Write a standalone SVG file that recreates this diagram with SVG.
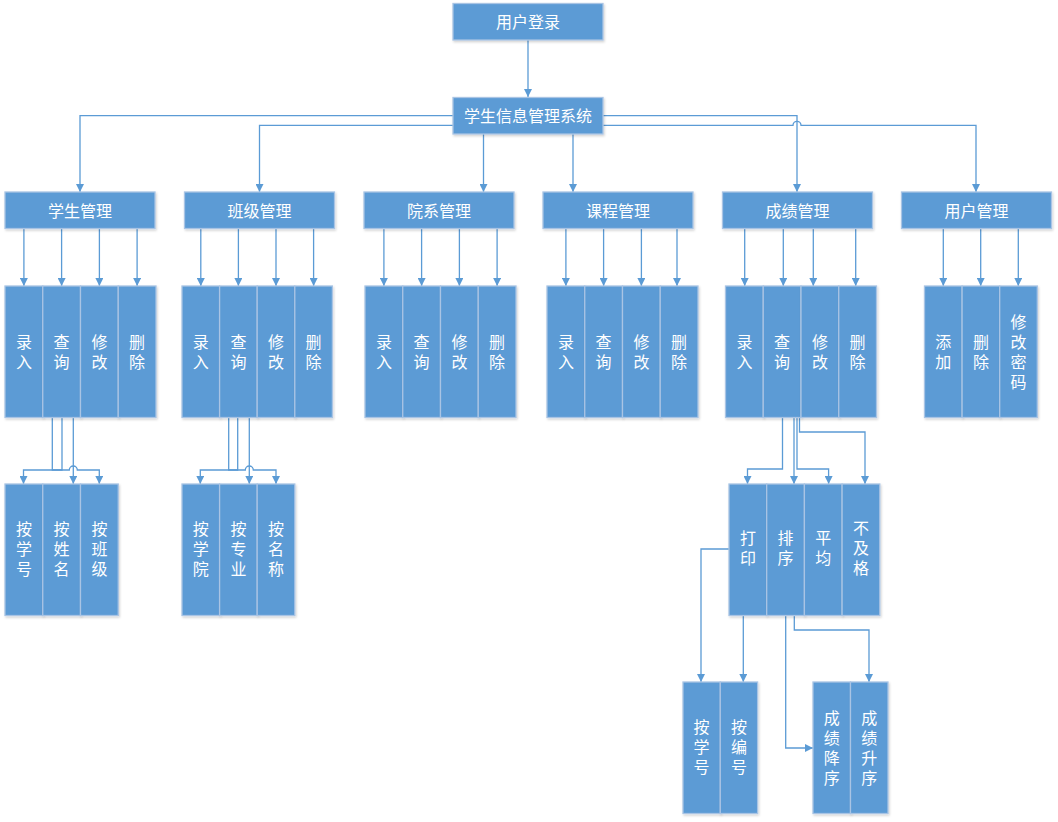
<svg xmlns="http://www.w3.org/2000/svg" width="1058" height="822" viewBox="0 0 1058 822">
<style>
.b{fill:#5b9bd5;stroke:#a9c4e4;stroke-width:1.3;filter:url(#sh)}
.t{fill:#fff;font-family:"Noto Sans CJK SC","Noto Sans",sans-serif;font-size:16px;text-anchor:middle;dominant-baseline:central}
.v{fill:#fff;font-family:"Noto Sans CJK SC","Noto Sans",sans-serif;font-size:16px;text-anchor:middle;writing-mode:vertical-rl;letter-spacing:4px}
.c{fill:none;stroke:#5b9bd5;stroke-width:1.3;marker-end:url(#ar)}
</style>
<defs>
<marker id="ar" markerUnits="userSpaceOnUse" markerWidth="8" markerHeight="8" refX="8" refY="4" orient="auto"><path d="M0,0 L8,4 L0,8 z" fill="#5b9bd5"/></marker>
<filter id="sh" x="-10%" y="-10%" width="130%" height="130%"><feDropShadow dx="1" dy="1.5" stdDeviation="1" flood-color="#000" flood-opacity="0.18"/></filter>
</defs>
<rect width="1058" height="822" fill="#fff"/>
<g id="connectors">
<path class="c" d="M528,40 V97"/>
<path class="c" d="M453,115.7 H80 V192"/>
<path class="c" d="M453,125.3 H259.5 V192"/>
<path class="c" d="M483.5,134 V192"/>
<path class="c" d="M573,134 V192"/>
<path class="c" d="M603,115.7 H797 V192"/>
<path class="c" d="M603,125.3 H793 A4,4 0 0 1 801,125.3 H976 V192"/>
<path class="c" d="M23.9,228 V286"/><path class="c" d="M61.6,228 V286"/><path class="c" d="M99.4,228 V286"/><path class="c" d="M137.1,228 V286"/>
<path class="c" d="M200.8,228 V286"/><path class="c" d="M238.4,228 V286"/><path class="c" d="M276,228 V286"/><path class="c" d="M313.6,228 V286"/>
<path class="c" d="M383.9,228 V286"/><path class="c" d="M421.6,228 V286"/><path class="c" d="M459.4,228 V286"/><path class="c" d="M497.1,228 V286"/>
<path class="c" d="M565.9,228 V286"/><path class="c" d="M603.6,228 V286"/><path class="c" d="M641.4,228 V286"/><path class="c" d="M677,228 V286"/>
<path class="c" d="M744.7,228 V286"/><path class="c" d="M783.3,228 V286"/><path class="c" d="M813.3,228 V286"/><path class="c" d="M855.7,228 V286"/>
<path class="c" d="M943.3,228 V286"/><path class="c" d="M980.7,228 V286"/><path class="c" d="M1018.3,228 V286"/>
<path class="c" d="M62,417.5 V470 H23.5 V484"/>
<path class="c" d="M52.3,417.5 V470 H69.3 A4,4 0 0 1 77.3,470 H99.3 V484"/>
<path class="c" d="M73.3,417.5 V484"/>
<path class="c" d="M237.7,417.5 V470 H200.3 V484"/>
<path class="c" d="M228.7,417.5 V470 H245.3 A4,4 0 0 1 253.3,470 H276 V484"/>
<path class="c" d="M249.3,417.5 V484"/>
<path class="c" d="M782.5,417.5 V469 H747.5 V484"/>
<path class="c" d="M794,417.5 V484"/>
<path class="c" d="M797,417.5 V469 H828.6 V484"/>
<path class="c" d="M799.5,417.5 V432 H865 V484"/>
<path class="c" d="M729,549 H701 V682"/>
<path class="c" d="M743.3,615.5 V682"/>
<path class="c" d="M785.7,615.5 V748 H813"/>
<path class="c" d="M794.3,615.5 V630 H869 V682"/>
</g>
<g id="n-login"><rect class="b" x="453" y="3.5" width="150" height="36.5"/><text class="t" x="528" y="21">用户登录</text></g>
<g id="n-root"><rect class="b" x="453" y="97.5" width="150" height="36.5"/><text class="t" x="528" y="115">学生信息管理系统</text></g>
<g id="n-xs"><rect class="b" x="5" y="192" width="150" height="36.5"/><text class="t" x="80" y="210">学生管理</text></g>
<g id="n-bj"><rect class="b" x="184.5" y="192" width="150" height="36.5"/><text class="t" x="259.5" y="210">班级管理</text></g>
<g id="n-yx"><rect class="b" x="364" y="192" width="150" height="36.5"/><text class="t" x="439" y="210">院系管理</text></g>
<g id="n-kc"><rect class="b" x="543" y="192" width="150" height="36.5"/><text class="t" x="618" y="210">课程管理</text></g>
<g id="n-cj"><rect class="b" x="722.5" y="192" width="150" height="36.5"/><text class="t" x="797.5" y="210">成绩管理</text></g>
<g id="n-yh"><rect class="b" x="901.5" y="192" width="150" height="36.5"/><text class="t" x="976.5" y="210">用户管理</text></g>

<g id="n-xs-lr"><rect class="b" x="5" y="286" width="37.75" height="131.5"/><text class="v" x="23.9" y="353.7">录入</text></g>
<g id="n-xs-cx"><rect class="b" x="42.75" y="286" width="37.75" height="131.5"/><text class="v" x="61.6" y="353.7">查询</text></g>
<g id="n-xs-xg"><rect class="b" x="80.5" y="286" width="37.75" height="131.5"/><text class="v" x="99.4" y="353.7">修改</text></g>
<g id="n-xs-sc"><rect class="b" x="118.25" y="286" width="37.75" height="131.5"/><text class="v" x="137.1" y="353.7">删除</text></g>

<g id="n-bj-lr"><rect class="b" x="182" y="286" width="37.6" height="131.5"/><text class="v" x="200.8" y="353.7">录入</text></g>
<g id="n-bj-cx"><rect class="b" x="219.6" y="286" width="37.6" height="131.5"/><text class="v" x="238.4" y="353.7">查询</text></g>
<g id="n-bj-xg"><rect class="b" x="257.2" y="286" width="37.6" height="131.5"/><text class="v" x="276" y="353.7">修改</text></g>
<g id="n-bj-sc"><rect class="b" x="294.8" y="286" width="37.6" height="131.5"/><text class="v" x="313.6" y="353.7">删除</text></g>

<g id="n-yx-lr"><rect class="b" x="365" y="286" width="37.75" height="131.5"/><text class="v" x="383.9" y="353.7">录入</text></g>
<g id="n-yx-cx"><rect class="b" x="402.75" y="286" width="37.75" height="131.5"/><text class="v" x="421.6" y="353.7">查询</text></g>
<g id="n-yx-xg"><rect class="b" x="440.5" y="286" width="37.75" height="131.5"/><text class="v" x="459.4" y="353.7">修改</text></g>
<g id="n-yx-sc"><rect class="b" x="478.25" y="286" width="37.75" height="131.5"/><text class="v" x="497.1" y="353.7">删除</text></g>

<g id="n-kc-lr"><rect class="b" x="547" y="286" width="37.75" height="131.5"/><text class="v" x="565.9" y="353.7">录入</text></g>
<g id="n-kc-cx"><rect class="b" x="584.75" y="286" width="37.75" height="131.5"/><text class="v" x="603.6" y="353.7">查询</text></g>
<g id="n-kc-xg"><rect class="b" x="622.5" y="286" width="37.75" height="131.5"/><text class="v" x="641.4" y="353.7">修改</text></g>
<g id="n-kc-sc"><rect class="b" x="660.25" y="286" width="37.75" height="131.5"/><text class="v" x="679.1" y="353.7">删除</text></g>

<g id="n-cj-lr"><rect class="b" x="725.5" y="286" width="37.75" height="131.5"/><text class="v" x="744.4" y="353.7">录入</text></g>
<g id="n-cj-cx"><rect class="b" x="763.25" y="286" width="37.75" height="131.5"/><text class="v" x="782.1" y="353.7">查询</text></g>
<g id="n-cj-xg"><rect class="b" x="801" y="286" width="37.75" height="131.5"/><text class="v" x="819.9" y="353.7">修改</text></g>
<g id="n-cj-sc"><rect class="b" x="838.75" y="286" width="37.75" height="131.5"/><text class="v" x="857.6" y="353.7">删除</text></g>

<g id="n-yh-tj"><rect class="b" x="924.5" y="286" width="37.6" height="131.5"/><text class="v" x="943.3" y="353.7">添加</text></g>
<g id="n-yh-sc"><rect class="b" x="962.1" y="286" width="37.6" height="131.5"/><text class="v" x="980.9" y="353.7">删除</text></g>
<g id="n-yh-xgmm"><rect class="b" x="999.7" y="286" width="37.6" height="131.5"/><text class="v" x="1018.5" y="353.6">修改密码</text></g>

<g id="n-xs-axh"><rect class="b" x="5" y="484" width="37.75" height="131.5"/><text class="v" x="23.9" y="551">按学号</text></g>
<g id="n-xs-axm"><rect class="b" x="42.75" y="484" width="37.75" height="131.5"/><text class="v" x="61.6" y="551">按姓名</text></g>
<g id="n-xs-abj"><rect class="b" x="80.5" y="484" width="37.75" height="131.5"/><text class="v" x="99.4" y="551">按班级</text></g>

<g id="n-bj-axy"><rect class="b" x="182" y="484" width="37.6" height="131.5"/><text class="v" x="200.8" y="551">按学院</text></g>
<g id="n-bj-azy"><rect class="b" x="219.6" y="484" width="37.6" height="131.5"/><text class="v" x="238.4" y="551">按专业</text></g>
<g id="n-bj-amc"><rect class="b" x="257.2" y="484" width="37.6" height="131.5"/><text class="v" x="276" y="551">按名称</text></g>

<g id="n-cj-dy"><rect class="b" x="729" y="484" width="37.7" height="131.5"/><text class="v" x="747.9" y="550.3">打印</text></g>
<g id="n-cj-px"><rect class="b" x="766.7" y="484" width="37.7" height="131.5"/><text class="v" x="785.6" y="550.3">排序</text></g>
<g id="n-cj-pj"><rect class="b" x="804.4" y="484" width="37.7" height="131.5"/><text class="v" x="823.3" y="550.3">平均</text></g>
<g id="n-cj-bjg"><rect class="b" x="842.1" y="484" width="37.7" height="131.5"/><text class="v" x="861" y="550.3">不及格</text></g>

<g id="n-dy-axh"><rect class="b" x="683" y="682" width="37.3" height="131.5"/><text class="v" x="701.6" y="748.7">按学号</text></g>
<g id="n-dy-abh"><rect class="b" x="720.3" y="682" width="37.3" height="131.5"/><text class="v" x="739" y="748.7">按编号</text></g>
<g id="n-px-jx"><rect class="b" x="813" y="682" width="37.5" height="131.5"/><text class="v" x="831.7" y="749.5">成绩降序</text></g>
<g id="n-px-sx"><rect class="b" x="850.5" y="682" width="37.5" height="131.5"/><text class="v" x="869.2" y="749.5">成绩升序</text></g>
</svg>
